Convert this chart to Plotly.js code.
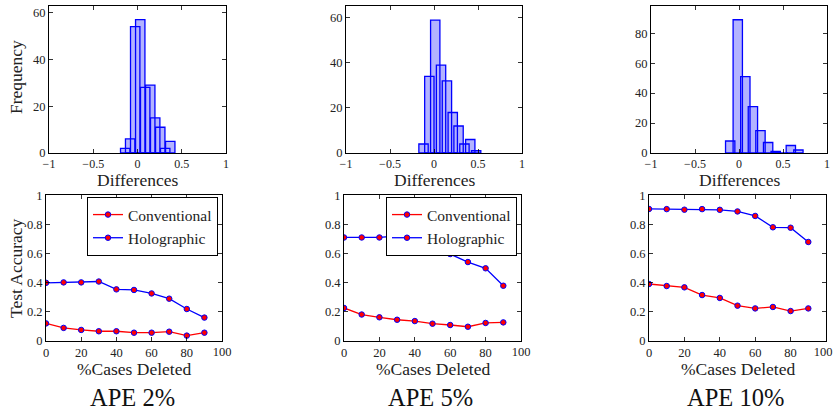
<!DOCTYPE html>
<html>
<head>
<meta charset="utf-8">
<script src="https://cdn.plot.ly/plotly-3.0.1.min.js"></script>
<style>
html,body{margin:0;padding:0;background:#fff;}
#wrap{position:relative;width:834px;height:412px;}
#chart{width:834px;height:412px;}
.endtick{position:absolute;z-index:20;font-family:'Liberation Serif','Times New Roman',serif;font-size:12.5px;line-height:14px;color:#222;transform:translateX(-50%);white-space:nowrap;pointer-events:none;}
</style>
</head>
<body>
<div id="wrap"><div id="chart"></div></div>
<script>
// ---- data ----
const histCenters2 = [-0.139, -0.083, -0.026, 0.031, 0.087, 0.144, 0.200, 0.257, 0.313, 0.370];
const histCounts2  = [2, 6, 54, 57, 28, 29, 15, 11, 2, 5];
const histCenters5 = [-0.119, -0.053, 0.014, 0.080, 0.147, 0.213, 0.279, 0.346, 0.412, 0.479];
const histCounts5  = [4, 34, 59, 39, 32, 18, 12, 4, 6, 1];
const histCenters10 = [-0.100, -0.014, 0.072, 0.158, 0.244, 0.331, 0.417, 0.503, 0.589, 0.675];
const histCounts10  = [8, 89, 51, 31, 15, 7, 1, 0, 5, 2];

const pctDeleted = [0, 10, 20, 30, 40, 50, 60, 70, 80, 90];
const conv2  = [0.119, 0.088, 0.074, 0.065, 0.065, 0.055, 0.055, 0.062, 0.035, 0.055];
const holo2  = [0.398, 0.401, 0.401, 0.407, 0.353, 0.349, 0.325, 0.289, 0.218, 0.159];
const conv5  = [0.225, 0.180, 0.161, 0.144, 0.135, 0.117, 0.108, 0.096, 0.122, 0.126];
const holo5  = [0.710, 0.710, 0.710, 0.720, 0.681, 0.612, 0.596, 0.541, 0.498, 0.378];
const conv10 = [0.390, 0.376, 0.367, 0.314, 0.294, 0.241, 0.222, 0.232, 0.204, 0.222];
const holo10 = [0.906, 0.905, 0.901, 0.905, 0.900, 0.889, 0.858, 0.780, 0.777, 0.679];

const panelTitles = ['APE 2%', 'APE 5%', 'APE 10%'];
const seriesNames = ['Conventional', 'Holographic'];
const lineTickVals = [0, 20, 40, 60, 80, 100];
const lineTickText = ['0', '20', '40', '60', '80', ''];
const lineEndTickValue = 100;
const lineEndTickLabel = '100';

// ---- layout helpers ----
const W = 834, H = 412;
const FONT = 'Liberation Serif, Times New Roman, serif';
const dx = (a, b) => [a / W, b / W];
const dy = (top, bottom) => [1 - bottom / H, 1 - top / H];

const histX = [[49, 226], [346, 522], [651, 827]];
const histYmax = [62.8, 65.3, 98.2];
const histTop = 6, histBottom = 153;
const lineX = [[46, 222], [344, 521], [649, 826]];
const lineTop = 195.3, lineBottom = 340.7;

const hists = [[histCenters2, histCounts2], [histCenters5, histCounts5], [histCenters10, histCounts10]];
const lines = [[conv2, holo2], [conv5, holo5], [conv10, holo10]];

const barWidth = 0.106;
const traces = [];
const layout = {
  width: W, height: H,
  margin: {l: 0, r: 0, t: 0, b: 0},
  paper_bgcolor: '#fff', plot_bgcolor: 'rgba(0,0,0,0)',
  showlegend: true,
  barmode: 'overlay',
  font: {family: FONT, color: '#222', size: 12.5},
  annotations: []
};

function axisBase() {
  return {
    showgrid: false, zeroline: false,
    showline: true, linecolor: '#000', linewidth: 1,
    mirror: 'ticks', ticks: 'inside', ticklen: 4, tickcolor: '#000', tickwidth: 0.8,
    tickfont: {family: FONT, size: 12.5, color: '#222'},
    ticklabeloverflow: 'allow',
    fixedrange: true
  };
}

for (let i = 0; i < 3; i++) {
  const hx = 'x' + (i + 1), hy = 'y' + (i + 1);
  const lx = 'x' + (i + 4), ly = 'y' + (i + 4);
  const [cs, ns] = hists[i];
  const widths = cs.map(() => barWidth);
  traces.push({
    type: 'bar', x: cs, y: ns, width: widths, xaxis: hx, yaxis: hy,
    marker: {color: 'rgb(179,179,255)', line: {width: 0}}, showlegend: false, hoverinfo: 'x+y'
  });
  traces.push({
    type: 'bar', x: cs, y: ns, width: widths, xaxis: hx, yaxis: hy,
    marker: {color: 'rgba(0,0,0,0)', line: {width: 1.3, color: '#0000ff'}}, showlegend: false, hoverinfo: 'skip'
  });

  const legName = i === 0 ? 'legend' : (i === 1 ? 'legend2' : 'legend3');
  const [cv, hv] = lines[i];
  traces.push({
    type: 'scatter', mode: 'lines+markers', name: seriesNames[0], x: pctDeleted, y: cv,
    xaxis: lx, yaxis: ly, legend: legName, showlegend: i < 2,
    line: {color: '#ff0000', width: 1.3},
    marker: {symbol: 'circle', size: 5.5, color: '#ff0000', line: {color: '#0000ff', width: 1}}
  });
  traces.push({
    type: 'scatter', mode: 'lines+markers', name: seriesNames[1], x: pctDeleted, y: hv,
    xaxis: lx, yaxis: ly, legend: legName, showlegend: i < 2,
    line: {color: '#0000ff', width: 1.3},
    marker: {symbol: 'circle', size: 5.5, color: '#ff0000', line: {color: '#0000ff', width: 1}}
  });

  const sfx = i === 0 ? '' : String(i + 1);
  layout['xaxis' + sfx] = Object.assign(axisBase(), {
    domain: dx(histX[i][0], histX[i][1]), anchor: hy, range: [-1, 1], tick0: -1, dtick: 0.5,
    tickfont: {family: FONT, size: 12, color: '#222'}
  });
  layout['yaxis' + sfx] = Object.assign(axisBase(), {
    domain: dy(histTop, histBottom), anchor: hx, range: [0, histYmax[i]], tick0: 0, dtick: 20
  });
  layout['xaxis' + (i + 4)] = Object.assign(axisBase(), {
    domain: dx(lineX[i][0], lineX[i][1]), anchor: ly, range: [0, 100],
    tickmode: 'array', tickvals: lineTickVals, ticktext: lineTickText
  });
  layout['yaxis' + (i + 4)] = Object.assign(axisBase(), {
    domain: dy(lineTop, lineBottom), anchor: lx, range: [0, 1], tick0: 0, dtick: 0.2
  });

  const cx = (histX[i][0] + histX[i][1]) / 2 / W;
  const lcx = (lineX[i][0] + lineX[i][1]) / 2 / W;
  layout.annotations.push({
    text: 'Differences', xref: 'paper', yref: 'paper', x: cx, y: 1 - 180 / H,
    xanchor: 'center', yanchor: 'middle', showarrow: false, font: {family: FONT, size: 17.5, color: '#222'}
  });
  layout.annotations.push({
    text: '%Cases Deleted', xref: 'paper', yref: 'paper', x: lcx, y: 1 - 369 / H,
    xanchor: 'center', yanchor: 'middle', showarrow: false, font: {family: FONT, size: 17.5, color: '#222'}
  });
  layout.annotations.push({
    text: panelTitles[i], xref: 'paper', yref: 'paper', x: lcx - 0.002, y: 1 - 397 / H,
    xanchor: 'center', yanchor: 'middle', showarrow: false, font: {family: FONT, size: 24.5, color: '#111'}
  });
}

layout.annotations.push({
  text: 'Frequency', xref: 'paper', yref: 'paper', x: 16 / W, y: 1 - 77 / H, textangle: -90,
  xanchor: 'center', yanchor: 'middle', showarrow: false, font: {family: FONT, size: 17.5, color: '#222'}
});
layout.annotations.push({
  text: 'Test Accuracy', xref: 'paper', yref: 'paper', x: 16 / W, y: 1 - 268 / H, textangle: -90,
  xanchor: 'center', yanchor: 'middle', showarrow: false, font: {family: FONT, size: 17.5, color: '#222'}
});

const legBase = {
  bgcolor: '#fff', bordercolor: '#000', borderwidth: 1,
  font: {family: FONT, size: 15.5, color: '#222'},
  xanchor: 'right', yanchor: 'top', tracegroupgap: 0, itemwidth: 30
};
layout.legend = Object.assign({}, legBase, {x: 218 / W, y: 1 - 197 / H});
layout.legend2 = Object.assign({}, legBase, {x: 517 / W, y: 1 - 197 / H});
layout.legend3 = Object.assign({}, legBase, {x: 820 / W, y: 1 - 197 / H, visible: false});

Plotly.newPlot('chart', traces, layout, {staticPlot: true, displayModeBar: false}).then(gd => {
  // end tick label "100" of each line chart, placed through the axis' own scale
  const wrap = document.getElementById('wrap');
  for (let i = 0; i < 3; i++) {
    const ax = gd._fullLayout['xaxis' + (i + 4)];
    let px = ax._offset + ax.l2p(lineEndTickValue);
    px = Math.min(px, W - 11);
    const d = document.createElement('div');
    d.className = 'endtick';
    d.textContent = lineEndTickLabel;
    d.style.left = px + 'px';
    d.style.top = '344.5px';
    wrap.appendChild(d);
  }
});
</script>
</body>
</html>
